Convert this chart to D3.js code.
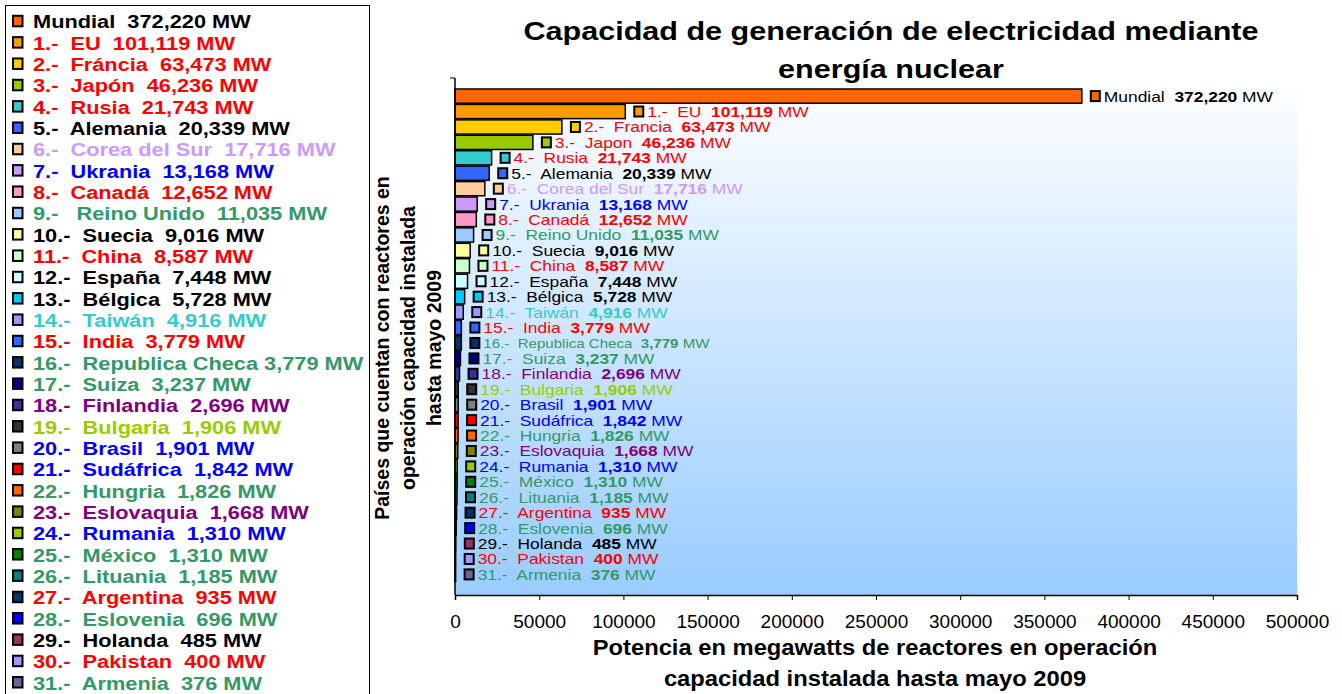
<!DOCTYPE html>
<html>
<head>
<meta charset="utf-8">
<script src="https://cdn.jsdelivr.net/npm/d3@7"></script>
<style>
    body { margin: 0; background: #fff; }
    text { font-family: Arial, "Liberation Sans", sans-serif; white-space: pre; }
</style>
</head>
<body>
<svg id="chart" width="1342" height="694"></svg>
<script>
// names shown next to the bars
let barNames = ["Mundial", "EU", "Francia", "Japon", "Rusia", "Alemania", "Corea del Sur", "Ukrania",
    "Canadá", "Reino Unido", "Suecia", "China", "España", "Bélgica", "Taiwán", "India",
    "Republica Checa", "Suiza", "Finlandia", "Bulgaria", "Brasil", "Sudáfrica", "Hungria",
    "Eslovaquia", "Rumania", "México", "Lituania", "Argentina", "Eslovenia", "Holanda",
    "Pakistan", "Armenia"];

// names shown in the legend box (spelled a bit differently there)
let legendNames = ["Mundial", "EU", "Fráncia", "Japón", "Rusia", "Alemania", "Corea del Sur", "Ukrania",
    "Canadá", " Reino Unido", "Suecia", "China", "España", "Bélgica", "Taiwán", "India",
    "Republica Checa", "Suiza", "Finlandia", "Bulgaria", "Brasil", "Sudáfrica", "Hungria",
    "Eslovaquia", "Rumania", "México", "Lituania", "Argentina", "Eslovenia", "Holanda",
    "Pakistan", "Armenia"];

// installed capacity, MW (mayo 2009)
let capacity = [372220, 101119, 63473, 46236, 21743, 20339, 17716, 13168, 12652, 11035,
    9016, 8587, 7448, 5728, 4916, 3779, 3779, 3237, 2696, 1906, 1901, 1842, 1826,
    1668, 1310, 1310, 1185, 935, 696, 485, 400, 376];

let barColors = ["#FF6600", "#FF9900", "#FFCC00", "#99CC00", "#33CCCC", "#3366FF", "#FFCC99", "#CC99FF",
    "#FF99CC", "#99CCFF", "#FFFF99", "#CCFFCC", "#CCFFFF", "#00CCFF", "#9999FF", "#3366FF",
    "#003366", "#000080", "#333399", "#333333", "#808080", "#FF0000", "#FF6600",
    "#808000", "#99CC00", "#008000", "#008080", "#003366", "#0000FF", "#993366",
    "#9999FF", "#666699"];

let textColors = ["#000000", "#FF0000", "#FF0000", "#FF0000", "#FF0000", "#000000", "#CC99FF", "#0000FF",
    "#FF0000", "#339966", "#000000", "#FF0000", "#000000", "#000000", "#33CCCC", "#FF0000",
    "#339966", "#339966", "#800080", "#99CC00", "#0000FF", "#0000FF", "#339966",
    "#800080", "#0000FF", "#339966", "#339966", "#FF0000", "#339966", "#000000",
    "#FF0000", "#339966"];

let xTicks = [0, 50000, 100000, 150000, 200000, 250000, 300000, 350000, 400000, 450000, 500000];

let titleLines = ["Capacidad de generación de electricidad mediante", "energía nuclear"];
let yTitleLines = ["Países que cuentan con reactores en", "operación capacidad instalada", "hasta mayo 2009"];
let xTitleLines = ["Potencia en megawatts de reactores en operación", "capacidad instalada hasta mayo 2009"];

let plot = { left: 455, right: 1297, top: 78, bottom: 595 };
let fmt = d3.format(",");
let svg = d3.select("#chart");

// text in the picture is drawn a bit wider than plain Arial
function place(sel, tx, ty, sx) {
    return sel.attr("transform", "translate(" + tx + "," + ty + ") scale(" + sx + ",1)");
}

let x = d3.scaleLinear().domain([0, 500000]).range([plot.left, plot.right]);
let y = d3.scaleBand().domain(d3.range(capacity.length)).range([89, 581.5]).paddingInner(0.08);

// background gradient of the plot area
let grad = svg.append("defs").append("linearGradient")
    .attr("id", "bg").attr("x1", 0).attr("y1", 0).attr("x2", 0).attr("y2", 1);
grad.append("stop").attr("offset", "0%").attr("stop-color", "#FFFFFF");
grad.append("stop").attr("offset", "100%").attr("stop-color", "#99CCFF");

svg.append("rect")
    .attr("x", plot.left).attr("y", plot.top)
    .attr("width", plot.right - plot.left).attr("height", plot.bottom - plot.top)
    .attr("fill", "url(#bg)");

// bars
svg.append("g").selectAll("rect")
    .data(capacity)
    .enter()
    .append("rect")
    .attr("x", x(0))
    .attr("y", (d, i) => y(i))
    .attr("width", d => x(d) - x(0))
    .attr("height", y.bandwidth())
    .attr("fill", (d, i) => barColors[i])
    .attr("stroke", "#000")
    .attr("stroke-width", 1.5);

// axes
let xAxis = d3.axisBottom(x).tickValues(xTicks).tickFormat(d3.format("d")).tickSize(5).tickPadding(15);
let gx = svg.append("g").attr("transform", "translate(0," + plot.bottom + ")").call(xAxis);
gx.select(".domain").attr("stroke", "#000").attr("stroke-width", 1.5);
gx.selectAll(".tick line").attr("stroke", "#000");
gx.selectAll(".tick text")
    .attr("fill", "#000")
    .style("font-size", "19px");

svg.append("line")
    .attr("x1", plot.left).attr("x2", plot.left)
    .attr("y1", plot.top).attr("y2", plot.bottom)
    .attr("stroke", "#000").attr("stroke-width", 1.5);
svg.append("line")
    .attr("x1", plot.left - 5).attr("x2", plot.left)
    .attr("y1", plot.top).attr("y2", plot.top)
    .attr("stroke", "#000");

// data labels next to the bars
let labels = svg.append("g").selectAll("g")
    .data(capacity)
    .enter()
    .append("g")
    .attr("transform", (d, i) => "translate(" + (x(d) + 9) + "," + (y(i) + y.bandwidth() / 2) + ")");

labels.append("rect")
    .attr("x", 0).attr("y", -5)
    .attr("width", 9).attr("height", 10)
    .attr("fill", (d, i) => barColors[i])
    .attr("stroke", "#000").attr("stroke-width", 2);

labels.each(function(d, i) {
    let g = d3.select(this);
    let t = g.append("text")
        .attr("dy", "0.36em")
        .attr("fill", textColors[i])
        .style("font-size", i === 16 ? "13px" : "15px");
    place(t, 13, 0, 1.16);
    let head = i === 0 ? barNames[i] + "  " : i + ".-  " + barNames[i] + "  ";
    t.append("tspan").text(head);
    t.append("tspan").style("font-weight", "bold").text(fmt(d));
    t.append("tspan").text(" MW");
});

// legend box on the left
svg.append("rect")
    .attr("x", 5.5).attr("y", 5.5)
    .attr("width", 364).attr("height", 700)
    .attr("fill", "#fff").attr("stroke", "#000").attr("stroke-width", 1);

let legend = svg.append("g").selectAll("g")
    .data(capacity)
    .enter()
    .append("g")
    .attr("transform", (d, i) => "translate(0," + (28.3 + i * 21.33) + ")");

legend.append("rect")
    .attr("x", 13).attr("y", -12.5)
    .attr("width", 9.5).attr("height", 10.5)
    .attr("fill", (d, i) => barColors[i])
    .attr("stroke", "#000").attr("stroke-width", 2);

legend.each(function(d, i) {
    let sep = legendNames[i] === "Republica Checa" ? " " : "  ";
    let label = (i === 0 ? "" : i + ".-  ") + legendNames[i] + sep + fmt(d) + " MW";
    let t = d3.select(this).append("text")
        .attr("fill", textColors[i])
        .style("font-size", "18px")
        .style("font-weight", "bold")
        .text(label);
    place(t, 33, 0, 1.21);
});

// titles
titleLines.forEach(function(line, k) {
    let t = svg.append("text")
        .attr("text-anchor", "middle")
        .style("font-size", "26px").style("font-weight", "bold")
        .text(line);
    place(t, 891, 40 + k * 38, 1.175);
});

xTitleLines.forEach(function(line, k) {
    let t = svg.append("text")
        .attr("text-anchor", "middle")
        .style("font-size", "22px").style("font-weight", "bold")
        .text(line);
    place(t, 875, 655 + k * 31, 1.08);
});

yTitleLines.forEach(function(line, k) {
    svg.append("text")
        .attr("text-anchor", "middle")
        .attr("transform", "translate(" + (389 + k * 26) + ",348) rotate(-90)")
        .style("font-size", "19.5px").style("font-weight", "bold")
        .text(line);
});
</script>
</body>
</html>
